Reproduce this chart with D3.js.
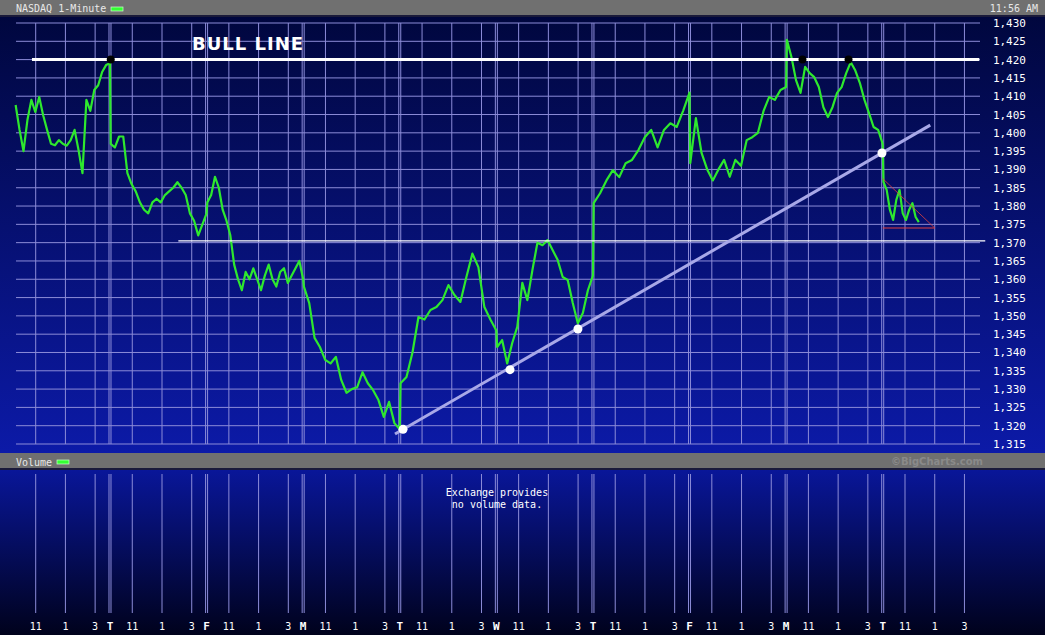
<!DOCTYPE html>
<html>
<head>
<meta charset="utf-8">
<script src="https://cdn.jsdelivr.net/npm/d3@7"></script>
<style>
  body { margin: 0; background: #000; }
  svg { display: block; }
</style>
</head>
<body>
<svg id="chart"></svg>
<script>
// day letters at each session open (session 0 has no letter)
const dayLetters = ["", "T", "F", "M", "T", "W", "T", "F", "M", "T"];
const hourTicks = [{ h: 1.5, label: "11" }, { h: 3.5, label: "1" }, { h: 5.5, label: "3" }];
const priceTicks = d3.range(1315, 1431, 5);

// NASDAQ 1-minute, one array per session (evenly spaced in the session)
const day0 = [1407.6, 1400.8, 1395, 1403.5, 1409, 1405.7, 1409.8, 1404.8, 1400.8, 1397, 1396.6, 1398, 1397, 1396.5, 1398, 1400.8, 1395.3, 1389, 1409, 1406, 1411.7, 1413, 1416.6, 1418.5, 1419];
const day1 = [1397, 1396, 1399, 1399, 1389, 1386, 1384, 1381, 1379, 1378, 1381, 1382, 1381, 1383, 1384, 1385, 1386.5, 1385, 1383, 1378, 1376, 1372, 1375, 1378];
const day2 = [1381, 1383, 1388, 1385, 1379, 1376, 1372, 1364, 1360, 1357, 1362, 1360, 1363, 1360, 1357, 1361, 1364, 1360, 1358, 1362, 1363, 1359, 1361, 1363, 1365, 1360];
const day3 = [1358, 1353.5, 1344, 1341.5, 1338, 1337, 1338.8, 1332.5, 1329, 1330, 1330.5, 1334.6, 1331.6, 1329.7, 1327, 1322.4, 1326.5, 1320.7, 1319];
const day4 = [1331.6, 1333.3, 1340, 1349.7, 1349, 1351.6, 1352.4, 1354.3, 1358.4, 1355.7, 1353.8, 1360.6, 1367, 1363.3, 1352.4, 1349, 1346];
const day5 = [1341.5, 1343.4, 1337, 1342.6, 1347, 1359, 1354.3, 1362.5, 1370, 1369.3, 1370.7, 1368, 1365.3, 1360.6, 1359.8, 1353.5, 1348, 1350.8, 1357, 1361];
const day6 = [1380.8, 1383.5, 1387, 1389.8, 1387.9, 1391.7, 1392.6, 1395.3, 1398.8, 1400.8, 1396, 1400.8, 1402.6, 1401.6, 1406, 1411];
const day7 = [1391.7, 1404, 1394.5, 1390, 1387, 1390, 1392.6, 1388, 1392.6, 1391, 1398, 1398.8, 1400, 1406, 1409.8, 1409, 1411.7, 1412.5];
const day8 = [1425.4, 1420.7, 1414.4, 1410.9, 1418, 1416.3, 1415.2, 1412.5, 1407, 1404.3, 1407, 1410.9, 1412.5, 1416.3, 1419.3, 1417, 1413.6, 1409, 1405.4, 1401.6, 1400.8, 1397];
const day9 = [1386.6, 1384.4, 1379, 1376.2, 1381.7, 1384.4, 1378, 1376.2, 1379, 1380.8, 1377, 1375.6];
const sessions = [day0, day1, day2, day3, day4, day5, day6, day7, day8, day9];
const lastHours = 2.43; // 11:56 AM

// drawn lines (trading hours since first open, price)
const bullLine = [[1.25, 1420], [65, 1420]];
const bullDots = [[6.55, 1420], [53.1, 1420], [56.2, 1420]];
const supportLine = [[11.1, 1370.5], [65.4, 1370.5]];
const trendDots = [[26.22, 1319], [33.42, 1335.3], [37.99, 1346.4], [58.45, 1394.5]];
const triTop = [[58.5, 1387.5], [62.0, 1374]];
const triBottom = [[58.5, 1374], [62.0, 1374]];

const W = 1045, H = 635;
const svg = d3.select("#chart").attr("width", W).attr("height", H);
const font = "'DejaVu Sans Mono', monospace";

const x = d3.scaleLinear().domain([0, 65]).range([13.4, 979.3]);
const y = d3.scaleLinear().domain([1315, 1430]).range([444, 23]);

const defs = svg.append("defs");
const g1 = defs.append("linearGradient").attr("id", "gTop").attr("x1", 0).attr("x2", 0).attr("y1", 0).attr("y2", 1);
g1.append("stop").attr("offset", 0).attr("stop-color", "#00063a");
g1.append("stop").attr("offset", 1).attr("stop-color", "#0c1aa8");
const g2 = defs.append("linearGradient").attr("id", "gBot").attr("x1", 0).attr("x2", 0).attr("y1", 0).attr("y2", 1);
g2.append("stop").attr("offset", 0).attr("stop-color", "#0a18a4");
g2.append("stop").attr("offset", 1).attr("stop-color", "#00021c");

svg.append("rect").attr("width", W).attr("height", 455).attr("fill", "url(#gTop)");
svg.append("rect").attr("y", 455).attr("width", W).attr("height", 180).attr("fill", "url(#gBot)");

// header bars
function header(yy) {
  svg.append("rect").attr("y", yy).attr("width", W).attr("height", 15).attr("fill", "#707070");
  svg.append("rect").attr("y", yy + 15).attr("width", W).attr("height", 2).attr("fill", "#1a1a3a");
}
header(0);
header(453);
svg.append("text").attr("x", 16).attr("y", 12).attr("fill", "#e8e8e8").attr("font-family", font).attr("font-size", 10).text("NASDAQ 1-Minute");
svg.append("rect").attr("x", 111).attr("y", 7).attr("width", 12).attr("height", 4).attr("fill", "#33ff33").attr("stroke", "#ccffcc").attr("stroke-width", 0.7);
svg.append("text").attr("x", 1038).attr("y", 12).attr("text-anchor", "end").attr("fill", "#e8e8e8").attr("font-family", font).attr("font-size", 10).text("11:56 AM");
svg.append("text").attr("x", 16).attr("y", 466).attr("fill", "#e8e8e8").attr("font-family", font).attr("font-size", 10).text("Volume");
svg.append("rect").attr("x", 57).attr("y", 460).attr("width", 12).attr("height", 4).attr("fill", "#33ff33").attr("stroke", "#ccffcc").attr("stroke-width", 0.7);
svg.append("text").attr("x", 983).attr("y", 465).attr("text-anchor", "end").attr("fill", "#8a8a8a").attr("font-family", "'DejaVu Sans', sans-serif").attr("font-weight", "bold").attr("font-size", 10).text("©BigCharts.com");

// grid
const grid = svg.append("g").attr("stroke", "#8c8cd8").attr("stroke-width", 1);
grid.selectAll(".h").data(priceTicks).join("line")
  .attr("x1", 16).attr("x2", 980).attr("y1", d => y(d)).attr("y2", d => y(d));

const vTicks = [];
sessions.forEach((s, i) => {
  if (i > 0) vTicks.push({ t: i * 6.5, label: dayLetters[i], day: true });
  hourTicks.forEach(h => vTicks.push({ t: i * 6.5 + h.h, label: h.label, day: false }));
});
const vLines = [];
vTicks.forEach(d => {
  if (d.day) { vLines.push(x(d.t) - 1); vLines.push(x(d.t) + 1); }
  else vLines.push(x(d.t));
});
grid.selectAll(".v").data(vLines).join("line")
  .attr("x1", d => d).attr("x2", d => d).attr("y1", 23).attr("y2", 444);
grid.selectAll(".vv").data(vLines).join("line")
  .attr("x1", d => d).attr("x2", d => d).attr("y1", 474).attr("y2", 613);

// tick labels
svg.selectAll(".py").data(priceTicks).join("text")
  .attr("x", 1026).attr("y", d => y(d) + 4).attr("text-anchor", "end")
  .attr("fill", "#ffffff").attr("font-family", font).attr("font-size", 11)
  .text(d => d3.format(",")(d));
svg.selectAll(".tx").data(vTicks).join("text")
  .attr("x", d => x(d.t)).attr("y", 630).attr("text-anchor", "middle")
  .attr("fill", "#ffffff").attr("font-family", font)
  .attr("font-size", d => d.day ? 11 : 10).attr("font-weight", d => d.day ? "bold" : "normal")
  .text(d => d.label);

svg.append("text").attr("x", 497).attr("y", 496).attr("text-anchor", "middle").attr("fill", "#ffffff")
  .attr("font-family", font).attr("font-size", 10).text("Exchange provides");
svg.append("text").attr("x", 497).attr("y", 508).attr("text-anchor", "middle").attr("fill", "#ffffff")
  .attr("font-family", font).attr("font-size", 10).text("no volume data.");

// price series
const pts = [];
sessions.forEach((s, i) => {
  const span = i === 9 ? lastHours : 6.5;
  const start = i === 0 ? 0.15 : 0.05;
  s.forEach((v, j) => pts.push([i * 6.5 + start + (span - start) * j / (s.length - 1), v]));
});
const line = d3.line().x(d => x(d[0])).y(d => y(d[1]));
svg.append("path").datum(pts).attr("d", line).attr("fill", "none")
  .attr("stroke", "#2ee82e").attr("stroke-width", 2.2).attr("stroke-linejoin", "round");

// annotations
svg.append("path").datum(supportLine).attr("d", line).attr("stroke", "#ffffff").attr("stroke-width", 1.2);
svg.append("path").datum(bullLine).attr("d", line).attr("stroke", "#ffffff").attr("stroke-width", 3);
const slope = (trendDots[3][1] - trendDots[0][1]) / (trendDots[3][0] - trendDots[0][0]);
const trend = [25.68, 61.7].map(t => [t, trendDots[0][1] + slope * (t - trendDots[0][0])]);
svg.append("path").datum(trend).attr("d", line).attr("stroke", "#a8a8e8").attr("stroke-width", 3);
svg.append("path").datum(triTop).attr("d", line).attr("stroke", "#e04040").attr("stroke-width", 0.8);
svg.append("path").datum(triBottom).attr("d", line).attr("stroke", "#e04040").attr("stroke-width", 1.2);
svg.selectAll(".td").data(trendDots).join("circle")
  .attr("cx", d => x(d[0])).attr("cy", d => y(d[1])).attr("r", 4.5).attr("fill", "#ffffff");
svg.selectAll(".bd").data(bullDots).join("circle")
  .attr("cx", d => x(d[0])).attr("cy", d => y(d[1])).attr("r", 4).attr("fill", "#000000");

svg.append("text").attr("x", 192).attr("y", 50).attr("fill", "#ffffff")
  .attr("font-family", "'DejaVu Sans', sans-serif").attr("font-weight", "bold").attr("font-size", 18)
  .attr("letter-spacing", 1).text("BULL LINE");
</script>
</body>
</html>
